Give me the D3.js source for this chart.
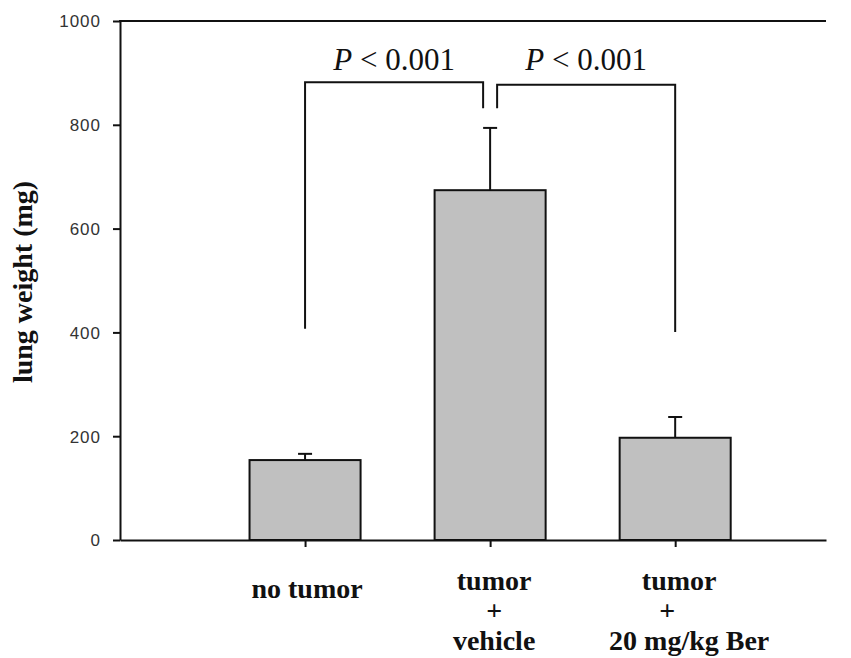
<!DOCTYPE html>
<html>
<head>
<meta charset="utf-8">
<script src="https://cdn.jsdelivr.net/npm/d3@7"></script>
<style>
  html, body { margin: 0; padding: 0; background: #fff; }
  svg { display: block; }
</style>
</head>
<body>
<svg id="chart" width="851" height="658"></svg>
<script>
// Group labels (one entry per printed line), means and standard errors (mg)
const groupLabels = [
  ["no tumor"],
  ["tumor", "+", "vehicle"],
  ["tumor", "+", "20 mg/kg Ber"]
];
const meanWeight = [154, 674, 197];
const errWeight = [12, 120, 40];
const yTickValues = [0, 200, 400, 600, 800, 1000];

// Significance brackets: groups compared, top level, leg end levels (mg)
const bracketPairs = [[0, 1], [2, 1]];
const bracketTop = [882, 877];
const bracketOuterEnd = [407, 401];
const bracketInnerEnd = [832, 832];
const bracketText = ["0.001", "0.001"];

const svg = d3.select("#chart");
const plotLeft = 120, plotRight = 826, plotTop = 21, plotBottom = 540;

const x = d3.scaleLinear().domain([0, 3.815]).range([plotLeft, plotRight]);
const y = d3.scaleLinear().domain([0, 1000]).range([plotBottom, plotTop]);
const pos = i => x(i + 1);
const barW = x(0.6) - x(0);

const ink = "#111";

// Bars
svg.append("g").selectAll("rect").data(meanWeight).join("rect")
  .attr("x", (d, i) => pos(i) - barW / 2)
  .attr("y", d => y(d))
  .attr("width", barW)
  .attr("height", d => y(0) - y(d))
  .attr("fill", "#c0c0c0")
  .attr("stroke", ink)
  .attr("stroke-width", 2);

// Upper error bars
const eb = svg.append("g").attr("stroke", ink).attr("stroke-width", 2);
meanWeight.forEach((m, i) => {
  const cx = pos(i);
  eb.append("line").attr("x1", cx).attr("x2", cx).attr("y1", y(m)).attr("y2", y(m + errWeight[i]));
  eb.append("line").attr("x1", cx - 7).attr("x2", cx + 7).attr("y1", y(m + errWeight[i])).attr("y2", y(m + errWeight[i]));
});

// Y axis
const yAxis = svg.append("g").attr("transform", `translate(${plotLeft},0)`)
  .call(d3.axisLeft(y).tickValues(yTickValues).tickFormat(d3.format("d"))
    .tickSize(7).tickPadding(12).tickSizeOuter(0));
yAxis.select(".domain").attr("stroke", ink).attr("stroke-width", 2);
yAxis.selectAll(".tick line").attr("stroke", ink).attr("stroke-width", 2);
yAxis.selectAll(".tick text")
  .attr("font-family", "Liberation Sans, Arial, sans-serif")
  .attr("font-size", 17).attr("letter-spacing", 1).attr("fill", "#333")
  .attr("dy", "0.35em");

// X axis (ticks only, labels are multi-line below)
const xAxis = svg.append("g").attr("transform", `translate(0,${plotBottom})`)
  .call(d3.axisBottom(x).tickValues(groupLabels.map((d, i) => i + 1)).tickSize(7).tickSizeOuter(0).tickFormat(""));
xAxis.select(".domain").attr("stroke", ink).attr("stroke-width", 2);
xAxis.selectAll(".tick line").attr("stroke", ink).attr("stroke-width", 2);

// Top frame line
svg.append("line").attr("x1", plotLeft - 1).attr("x2", plotRight).attr("y1", plotTop).attr("y2", plotTop)
  .attr("stroke", ink).attr("stroke-width", 2);

// Group labels; the long last line of a stacked label sits a little right of centre
const labelFont = "Liberation Serif, Times New Roman, serif";
groupLabels.forEach((lines, i) => {
  const t = svg.append("text")
    .attr("text-anchor", "middle")
    .attr("font-family", labelFont).attr("font-weight", "bold")
    .attr("font-size", 28).attr("fill", "#111");
  const y0 = lines.length === 1 ? 598 : 590;
  lines.forEach((ln, k) => {
    let shift = lines.length === 1 ? 2 : 4;
    if (k === 2 && ln.length > 8) shift = 14;
    if (k === 1 && i === 2) shift = -8;
    t.append("tspan").attr("x", pos(i) + shift).attr("y", y0 + k * 30).text(ln);
  });
});

// Y axis title
svg.append("text")
  .attr("transform", "translate(32,282) rotate(-90)")
  .attr("text-anchor", "middle")
  .attr("font-family", labelFont).attr("font-weight", "bold")
  .attr("font-size", 28).attr("fill", "#111")
  .text("lung weight (mg)");

// Significance brackets
const br = svg.append("g").attr("fill", "none").attr("stroke", ink).attr("stroke-width", 2);
bracketPairs.forEach(([a, b], k) => {
  const xa = pos(a);
  const xb = pos(b) + (b > a ? -7 : 7);
  br.append("path").attr("d", d3.line()([
    [xa, y(bracketOuterEnd[k])],
    [xa, y(bracketTop[k])],
    [xb, y(bracketTop[k])],
    [xb, y(bracketInnerEnd[k])]
  ]));
  const t = svg.append("text")
    .attr("x", (xa + xb) / 2).attr("y", 70)
    .attr("text-anchor", "middle")
    .attr("font-family", labelFont).attr("font-size", 31).attr("fill", "#111");
  t.append("tspan").attr("font-style", "italic").text("P");
  t.append("tspan").text(" < " + bracketText[k]);
});
</script>
</body>
</html>
